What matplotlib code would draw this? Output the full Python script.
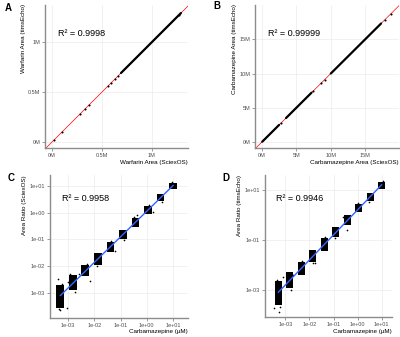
"""
Сравнение площадей пиков SciexOS / timsEcho (4 панели A-D).
"""
import numpy as np
import matplotlib
matplotlib.use("Agg")
import matplotlib.pyplot as plt

plt.rcParams['font.family'] = ['Liberation Sans', 'DejaVu Sans']

# --- A: Warfarin, площади (млн) ---
warf_run_start = [0.69]          # плотный участок точек
warf_run_end = [1.29]
warf_x = [0.02, 0.10, 0.28, 0.33, 0.37, 0.56, 0.59, 0.63, 0.66, 1.27]
warf_y = [0.02, 0.10, 0.28, 0.33, 0.37, 0.56, 0.59, 0.63, 0.66, 1.27]
warf_r2 = "0.9998"

# --- B: Carbamazepine, площади (млн) ---
carb_run_start = [0.05, 3.5, 10.0]
carb_run_end = [2.5, 7.2, 17.3]
carb_x = [2.75, 7.4, 8.55, 9.1, 17.8, 18.7]
carb_y = [2.75, 7.4, 8.55, 9.1, 17.8, 18.7]
carb_r2 = "0.99999"

# --- C / D: отношение площадей по концентрациям ---
conc = [0.000508, 0.00152, 0.00457, 0.0137, 0.0412, 0.123, 0.370, 1.11, 3.33, 10.0]

c_lo = [2.8e-4, 1.3e-3, 4.2e-3, 1.1e-2, 3.5e-2, 0.105, 0.30, 0.85, 2.7, 7.6]
c_hi = [2.0e-3, 4.8e-3, 1.1e-2, 3.1e-2, 7.9e-2, 0.22, 0.65, 1.8, 4.9, 12.9]
c_out_x = [0.00050, 0.00039, 0.00089, 0.00102, 0.00042, 0.0027, 0.0069, 0.0166,
           0.062, 0.42, 1.74, 0.00058, 0.00046, 0.0019, 0.0012, 0.0053, 0.013,
           0.045, 0.14, 0.33, 1.25, 3.8, 9.2]
c_out_y = [0.00023, 0.00032, 0.00028, 0.0026, 0.0032, 0.0051, 0.0027, 0.028,
           0.037, 0.81, 1.07, 0.0022, 0.00026, 0.0011, 0.0052, 0.0120, 0.0098,
           0.085, 0.098, 0.70, 1.95, 2.5, 13.8]
c_r2 = "0.9958"

d_lo = [2.6e-4, 1.2e-3, 4.0e-3, 1.35e-2, 3.6e-2, 0.135, 0.40, 1.3, 3.6, 11.0]
d_hi = [2.3e-3, 5.4e-3, 1.35e-2, 4.0e-2, 0.117, 0.34, 1.0, 2.7, 7.4, 21.0]
d_out_x = [0.00056, 0.00035, 0.00083, 0.0020, 0.0162, 0.245, 0.129, 0.38,
           0.00045, 0.00062, 0.0017, 0.0051, 0.0138, 0.044, 0.11, 1.0, 3.1, 11.0]
d_out_y = [0.000135, 0.000186, 0.0034, 0.0040, 0.0117, 0.85, 0.30, 0.25,
           0.0025, 0.00022, 0.00105, 0.0145, 0.0125, 0.128, 0.125, 2.9, 3.4, 23.0]
d_r2 = "0.9946"

GRID = "#EBEBEB"
AXIS = "#8C8C8C"
TICK_TXT = "#4D4D4D"


def _style(ax):
    for s in ("top", "right"):
        ax.spines[s].set_visible(False)
    for s in ("left", "bottom"):
        ax.spines[s].set_color(AXIS)
        ax.spines[s].set_linewidth(1.0)
    ax.tick_params(colors=AXIS, labelcolor=TICK_TXT, labelsize=4,
                   length=2, width=0.6, pad=1.5)
    ax.grid(True, color=GRID, lw=0.5)
    ax.set_axisbelow(True)
    ax.minorticks_off()


def _area_panel(ax, run_start, run_end, xs, ys, r2):
    ax.axline((0, 0), slope=1, color="red", lw=0.5, zorder=1)
    for a, b in zip(run_start, run_end):
        ax.plot([a, b], [a, b], color="black", lw=1.6,
                solid_capstyle="round", zorder=2)
    ax.plot(xs, ys, "o", color="black", ms=1.5, mew=0, zorder=3)
    ax.text(0.09, 0.80, "R² = " + r2, transform=ax.transAxes,
            fontsize=6.5, va="center")


def _ratio_panel(ax, lo, hi, ox, oy, r2):
    ax.set_xscale("log")
    ax.set_yscale("log")
    w = 10 ** 0.15
    for c, a, b in zip(conc, lo, hi):
        ax.fill_between([c / w, c * w], a, b, color="black", lw=0, zorder=2)
    ax.plot(ox, oy, "o", color="black", ms=1.2, mew=0, zorder=2)
    # линейная регрессия в лог-лог
    mid = np.sqrt(np.array(lo) * np.array(hi))
    k, b0 = np.polyfit(np.log10(conc), np.log10(mid), 1)
    xl = np.array([conc[0], conc[-1]])
    ax.plot(xl, 10 ** (k * np.log10(xl) + b0), color="#3366FF", lw=1.0, zorder=3)
    ax.text(0.087, 0.835, "R² = " + r2, transform=ax.transAxes,
            fontsize=6.5, va="center")


fig = plt.figure(figsize=(4.0, 3.37), dpi=100)

axA = fig.add_axes([45 / 400, 1 - 148 / 337, 143 / 400, 143 / 337])
axB = fig.add_axes([255 / 400, 1 - 148 / 337, 144 / 400, 143 / 337])
axC = fig.add_axes([50 / 400, 1 - 318 / 337, 138 / 400, 143 / 337])
axD = fig.add_axes([265 / 400, 1 - 317 / 337, 127 / 400, 142 / 337])

LBL = 4.5

# A
_style(axA)
_area_panel(axA, warf_run_start, warf_run_end, warf_x, warf_y, warf_r2)
axA.set_xlim(-0.07, 1.36)
axA.set_ylim(-0.06, 1.37)
axA.set_xticks([0, 0.5, 1.0], ["0M", "0.5M", "1M"])
axA.set_yticks([0, 0.5, 1.0], ["0M", "0.5M", "1M"])
axA.set_xlabel("Warfarin Area (SciexOS)", fontsize=LBL, loc="right")
axA.set_ylabel("Warfarin Area (timsEcho)", fontsize=LBL, loc="top")
axA.xaxis.set_label_coords(1.0, -0.084)
axA.yaxis.set_label_coords(-0.13, 1.01)

# B
_style(axB)
_area_panel(axB, carb_run_start, carb_run_end, carb_x, carb_y, carb_r2)
axB.set_xlim(-1.0, 19.9)
axB.set_ylim(-0.87, 20.0)
axB.set_xticks([0, 5, 10, 15], ["0M", "5M", "10M", "15M"])
axB.set_yticks([0, 5, 10, 15], ["0M", "5M", "10M", "15M"])
axB.set_xlabel("Carbamazepine Area (SciexOS)", fontsize=LBL, loc="right")
axB.set_ylabel("Carbamazepine Area (timsEcho)", fontsize=LBL, loc="top")
axB.xaxis.set_label_coords(1.0, -0.084)
axB.yaxis.set_label_coords(-0.125, 1.01)

# C
_ratio_panel(axC, c_lo, c_hi, c_out_x, c_out_y, c_r2)
_style(axC)
axC.set_xlim(10 ** -3.69, 10 ** 1.57)
axC.set_ylim(10 ** -3.93, 10 ** 1.40)
dec = [1e-3, 1e-2, 1e-1, 1e0, 1e1]
dec_lbl = ["1e-03", "1e-02", "1e-01", "1e+00", "1e+01"]
axC.set_xticks(dec, dec_lbl)
axC.set_yticks(dec, dec_lbl)
axC.set_xlabel("Carbamazepine (µM)", fontsize=LBL, loc="right")
axC.set_ylabel("Area Ratio (SciexOS)", fontsize=LBL, loc="top")
axC.xaxis.set_label_coords(1.0, -0.077)
axC.yaxis.set_label_coords(-0.165, 1.0)

# D
_ratio_panel(axD, d_lo, d_hi, d_out_x, d_out_y, d_r2)
_style(axD)
axD.set_xlim(10 ** -3.85, 10 ** 1.43)
axD.set_ylim(10 ** -4.07, 10 ** 1.60)
axD.set_xticks(dec, dec_lbl)
axD.set_yticks([1e-3, 1e-1, 1e1], ["1e-03", "1e-01", "1e+01"])
axD.set_xlabel("Carbamazepine (µM)", fontsize=LBL, loc="right")
axD.set_ylabel("Area Ratio (timsEcho)", fontsize=LBL, loc="top")
axD.xaxis.set_label_coords(1.0, -0.085)
axD.yaxis.set_label_coords(-0.185, 1.0)

for lbl, x, y in [("A", 5, 8), ("B", 213, 6), ("C", 8, 178), ("D", 222, 178)]:
    fig.text(x / 400, 1 - y / 337, lbl, fontsize=7, fontweight="bold",
             va="center", ha="left")

fig.savefig("out.png", dpi=100)
